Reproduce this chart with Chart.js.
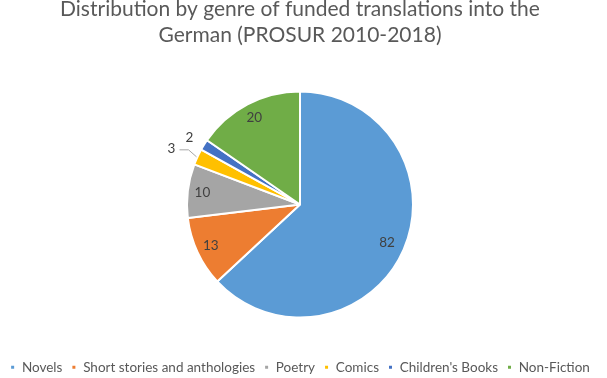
<!DOCTYPE html>
<html><head><meta charset="utf-8">
<script src="https://cdn.jsdelivr.net/npm/chart.js@4"></script>
<style>html,body{margin:0;padding:0;background:#fff}#wrap{width:607px;height:378px}</style>
</head><body><div id="wrap"><canvas id="c" width="607" height="378"></canvas></div>
<script>
const categories = ["Novels", "Short stories and anthologies", "Poetry", "Comics", "Children's Books", "Non-Fiction"];
const values = [82, 13, 10, 3, 2, 20];
const colors = ["#5B9BD5", "#ED7D31", "#A5A5A5", "#FFC000", "#4472C4", "#70AD47"];
const titleLines = ["Distribution by genre of funded translations into the", "German (PROSUR 2010-2018)"];
const FONT = "Lato, 'Open Sans', sans-serif";

const labelPlugin = {
  id: 'sliceLabels',
  afterDatasetsDraw(chart) {
    const ctx = chart.ctx;
    const meta = chart.getDatasetMeta(0);
    ctx.save();
    ctx.font = "13.5px " + FONT;
    ctx.fillStyle = "#404040";
    ctx.textAlign = "center";
    ctx.textBaseline = "middle";
    meta.data.forEach((arc, i) => {
      const p = arc.getProps(['x','y','startAngle','endAngle','outerRadius'], true);
      const mid = (p.startAngle + p.endAngle) / 2;
      const v = chart.data.datasets[0].data[i];
      const r = p.outerRadius;
      const f = (i === 0) ? 0.84 : 0.87;
      let lx = p.x + Math.cos(mid) * r * f;
      let ly = p.y + Math.sin(mid) * r * f;
      if (v === 3) {
        const ex = p.x + Math.cos(mid) * r * 1.0;
        const ey = p.y + Math.sin(mid) * r * 1.0;
        ctx.strokeStyle = "#A6A6A6";
        ctx.lineWidth = 1;
        ctx.beginPath();
        ctx.moveTo(ex - 1, ey);
        ctx.lineTo(ex - 9, ey - 7);
        ctx.lineTo(ex - 18, ey - 7);
        ctx.stroke();
        lx = ex - 26; ly = ey - 8;
      }
      if (v === 2) {
        lx = p.x + Math.cos(mid) * r * 1.13 - 2;
        ly = p.y + Math.sin(mid) * r * 1.13 + 1;
      }
      ctx.fillText(String(v), lx, ly);
    });
    ctx.restore();
  }
};

new Chart(document.getElementById('c'), {
  type: 'pie',
  data: {
    labels: categories,
    datasets: [{ data: values, backgroundColor: colors, borderColor: '#fff', borderWidth: 2, radius: 113 }]
  },
  options: {
    responsive: false,
    animation: false,
    layout: { padding: { top: -4, bottom: -6, left: 0, right: 7 } },
    plugins: {
      title: { display: true, text: titleLines, color: '#595959', font: { family: FONT, size: 21, weight: 'normal', lineHeight: 1.2 }, padding: { top: 1, bottom: 10 } },
      legend: { position: 'bottom', labels: { color: '#595959', font: { family: FONT, size: 13.5 }, boxWidth: 5, boxHeight: 5, padding: 9 } },
      tooltip: { enabled: false }
    }
  },
  plugins: [labelPlugin]
});
</script>
</body></html>
